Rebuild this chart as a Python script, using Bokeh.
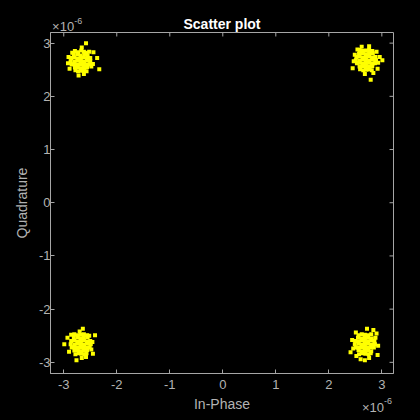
from bokeh.plotting import figure
from bokeh.models import Range1d, FixedTicker, Label, ColumnDataSource, GlobalInlineStyleSheet
from bokeh.embed import file_html
from bokeh.resources import INLINE

# In-phase / quadrature samples (units of 1e-6)
I_tl = [-2.79, -2.73, -2.67, -2.62, -2.57,
        -2.81, -2.74, -2.68, -2.61, -2.55,
        -2.86, -2.80, -2.74, -2.68, -2.62, -2.56, -2.50,
        -2.87, -2.80, -2.74, -2.68, -2.62, -2.56, -2.50,
        -2.85, -2.80, -2.74, -2.68, -2.62, -2.56, -2.51,
        -2.79, -2.74, -2.68, -2.62, -2.56,
        -2.78, -2.73, -2.67, -2.61, -2.57,
        -2.58, -2.37, -2.33, -2.45, -2.72, -2.89, -2.91, -2.44, -2.48, -2.52, -2.66, -2.84, -2.92, -2.62]
Q_tl = [2.85, 2.83, 2.86, 2.84, 2.82,
        2.78, 2.79, 2.77, 2.79, 2.77,
        2.72, 2.73, 2.71, 2.72, 2.73, 2.71, 2.72,
        2.66, 2.65, 2.67, 2.66, 2.65, 2.67, 2.66,
        2.60, 2.61, 2.59, 2.60, 2.61, 2.59, 2.60,
        2.54, 2.55, 2.53, 2.54, 2.55,
        2.49, 2.47, 2.48, 2.49, 2.47,
        3.00, 2.72, 2.51, 2.61, 2.39, 2.52, 2.74, 2.83, 2.56, 2.84, 2.92, 2.82, 2.62, 2.42]

I_tr = [2.58, 2.64, 2.70, 2.76, 2.82,
        2.57, 2.64, 2.70, 2.76, 2.83,
        2.52, 2.58, 2.64, 2.70, 2.76, 2.82, 2.88,
        2.51, 2.58, 2.64, 2.70, 2.76, 2.82, 2.89,
        2.53, 2.58, 2.64, 2.70, 2.76, 2.82, 2.87,
        2.58, 2.64, 2.70, 2.76, 2.82,
        2.59, 2.65, 2.71, 2.77, 2.81,
        2.79, 3.01, 2.90, 2.45, 2.93, 2.62, 2.49, 2.84, 2.96, 2.76, 2.47, 2.92, 2.68, 2.54]
Q_tr = [2.87, 2.85, 2.86, 2.87, 2.85,
        2.80, 2.81, 2.79, 2.80, 2.81,
        2.74, 2.75, 2.73, 2.74, 2.75, 2.73, 2.74,
        2.68, 2.67, 2.69, 2.68, 2.67, 2.69, 2.68,
        2.62, 2.63, 2.61, 2.62, 2.63, 2.61, 2.62,
        2.56, 2.57, 2.55, 2.56, 2.57,
        2.51, 2.49, 2.50, 2.51, 2.49,
        2.31, 2.68, 2.84, 2.53, 2.63, 2.93, 2.78, 2.44, 2.74, 2.94, 2.66, 2.52, 2.42, 2.88]

I_bl = [-2.80, -2.74, -2.68, -2.62, -2.56,
        -2.81, -2.74, -2.68, -2.62, -2.55,
        -2.86, -2.80, -2.74, -2.68, -2.62, -2.56, -2.50,
        -2.87, -2.80, -2.74, -2.68, -2.62, -2.56, -2.49,
        -2.85, -2.80, -2.74, -2.68, -2.62, -2.56, -2.51,
        -2.80, -2.74, -2.68, -2.62, -2.56,
        -2.78, -2.72, -2.67, -2.61, -2.57,
        -2.99, -2.93, -2.41, -2.45, -2.64, -2.76, -2.70, -2.48, -2.46, -2.86, -2.90, -2.66, -2.52, -2.58]
Q_bl = [-2.47, -2.49, -2.48, -2.47, -2.49,
        -2.54, -2.53, -2.55, -2.54, -2.53,
        -2.60, -2.59, -2.61, -2.60, -2.59, -2.61, -2.60,
        -2.66, -2.67, -2.65, -2.66, -2.67, -2.65, -2.66,
        -2.72, -2.71, -2.73, -2.72, -2.71, -2.73, -2.72,
        -2.78, -2.77, -2.79, -2.78, -2.77,
        -2.85, -2.83, -2.84, -2.85, -2.83,
        -2.66, -2.54, -2.49, -2.84, -2.37, -2.96, -2.42, -2.76, -2.62, -2.48, -2.80, -2.92, -2.50, -2.90]

I_br = [2.56, 2.62, 2.68, 2.74, 2.80,
        2.55, 2.62, 2.68, 2.74, 2.81,
        2.50, 2.56, 2.62, 2.68, 2.74, 2.80, 2.86,
        2.49, 2.56, 2.62, 2.68, 2.74, 2.80, 2.87,
        2.51, 2.56, 2.62, 2.68, 2.74, 2.80, 2.85,
        2.56, 2.62, 2.68, 2.74, 2.80,
        2.57, 2.63, 2.69, 2.75, 2.79,
        2.72, 2.84, 2.90, 2.51, 2.41, 2.68, 2.93, 2.44, 2.92, 2.60, 2.46, 2.88, 2.76, 2.52]
Q_br = [-2.49, -2.47, -2.48, -2.49, -2.47,
        -2.54, -2.55, -2.53, -2.54, -2.55,
        -2.60, -2.61, -2.59, -2.60, -2.61, -2.59, -2.60,
        -2.66, -2.65, -2.67, -2.66, -2.65, -2.67, -2.66,
        -2.72, -2.73, -2.71, -2.72, -2.73, -2.71, -2.72,
        -2.77, -2.79, -2.78, -2.77, -2.79,
        -2.85, -2.83, -2.84, -2.85, -2.83,
        -2.37, -2.39, -2.46, -2.44, -2.81, -2.96, -2.69, -2.58, -2.86, -2.94, -2.74, -2.54, -2.92, -2.88]

tick_values = [-3, -2, -1, 0, 1, 2, 3]
tick_labels = ["-3", "-2", "-1", "0", "1", "2", "3"]

title_text = "Scatter plot"
x_label = "In-Phase"
y_label = "Quadrature"
exp_base = "\u00d710"
exp_power = "-6"

FONT = "Liberation Sans"
AX = "#A6A6A6"
TXT = "#B3B3B3"

X0, X1 = -3.25, 3.22
Y0, Y1 = -3.21, 3.20
TICK = 0.075  # inward tick length for top/right box edges (about 4 px)

src = ColumnDataSource(dict(i=I_tl + I_tr + I_bl + I_br, q=Q_tl + Q_tr + Q_bl + Q_br))

# page margin removed (black page); the canvas is wider than the window and the hidden
# extra right border only holds the exponent annotations' layout slots
p = figure(width=483, height=420, output_backend="svg", toolbar_location=None,
           x_range=Range1d(X0, X1), y_range=Range1d(Y0, Y1),
           background_fill_color="black", border_fill_color="black",
           min_border_left=50, min_border_right=90, min_border_top=32, min_border_bottom=47)
p.stylesheets = [GlobalInlineStyleSheet(
    css="html, body { background-color: black; overflow: hidden; margin: 0; padding: 0; }")]
p.outline_line_color = AX
p.outline_line_width = 1
p.grid.visible = False

p.title.text = title_text
p.title.align = "center"
p.title.text_color = "white"
p.title.text_font = FONT
p.title.text_font_style = "bold"
p.title.text_font_size = "14px"
p.title.standoff = 2

p.scatter("i", "q", source=src, marker="square", size=4, fill_color="#FFFF00",
          line_color=None)

# inward ticks on the top and right edges of the box
n = len(tick_values)
p.segment(x0=tick_values, y0=[Y1] * n, x1=tick_values, y1=[Y1 - TICK] * n, line_color=AX, line_width=1)
p.segment(x0=[X1] * n, y0=tick_values, x1=[X1 - TICK] * n, y1=tick_values, line_color=AX, line_width=1)

labels = {v: t for v, t in zip(tick_values, tick_labels)}
for ax in p.axis:
    ax.ticker = FixedTicker(ticks=tick_values)
    ax.axis_line_color = AX
    ax.major_tick_line_color = AX
    ax.major_tick_in = 4
    ax.major_tick_out = 0
    ax.minor_tick_line_color = None
    ax.major_label_overrides = labels
    ax.major_label_text_color = TXT
    ax.major_label_text_font = FONT
    ax.major_label_text_font_size = "13px"
    ax.axis_label_text_color = TXT
    ax.axis_label_text_font = FONT
    ax.axis_label_text_font_style = "normal"
    ax.axis_label_text_font_size = "14px"

xa = p.xaxis[0]
xa.major_label_standoff = 6
xa.axis_label = x_label
xa.axis_label_standoff = 4

ya = p.yaxis[0]
ya.major_label_standoff = 0
ya.axis_label = y_label
ya.axis_label_standoff = 6

# axis exponent annotations (data-positioned, held in the right side panel so they are not clipped)
p.add_layout(Label(x=-3.22, y=3.31, text=exp_base, text_align="left", text_baseline="alphabetic",
                   text_color=TXT, text_font=FONT, text_font_size="13px"), "right")
p.add_layout(Label(x=-2.80, y=3.42, text=exp_power, text_align="left", text_baseline="alphabetic",
                   text_color=TXT, text_font=FONT, text_font_size="9px"), "right")
p.add_layout(Label(x=2.625, y=-3.85, text=exp_base, text_align="left", text_baseline="alphabetic",
                   text_color=TXT, text_font=FONT, text_font_size="13px"), "right")
p.add_layout(Label(x=3.04, y=-3.72, text=exp_power, text_align="left", text_baseline="alphabetic",
                   text_color=TXT, text_font=FONT, text_font_size="9px"), "right")

open("out.html", "w").write(file_html(p, INLINE))
